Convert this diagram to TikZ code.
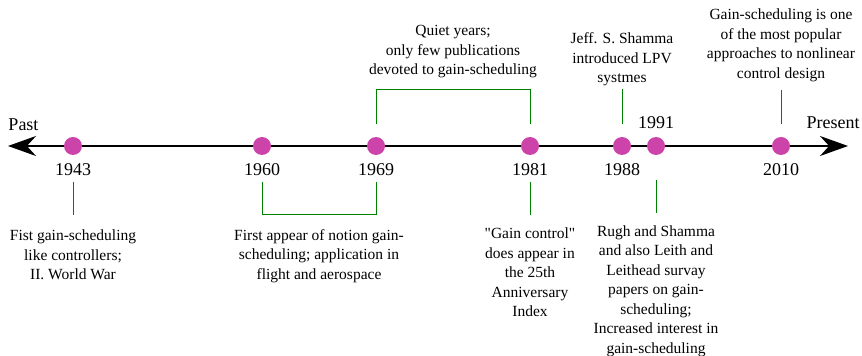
\documentclass[tikz,border=0pt]{standalone}
\usepackage{fontspec}
\setmainfont{Liberation Serif}[Ligatures=TeXOff]
\usetikzlibrary{arrows.meta,positioning}
\definecolor{dotpink}{RGB}{204,68,170}
\definecolor{linkgreen}{RGB}{0,128,0}

\begin{document}
\begin{tikzpicture}[
    x=1pt, y=1pt,
    dot/.style={circle, fill=dotpink, inner sep=0pt, minimum size=18pt},
    year/.style={font=\fontsize{18}{20}\selectfont, inner sep=3pt},
    note/.style={align=center, font=\fontsize{15.5}{19.5}\selectfont, inner sep=3pt},
    link/.style={draw=linkgreen, line width=0.9pt},
    axis/.style={{Stealth[length=28pt,width=20pt]}-{Stealth[length=28pt,width=20pt]}, line width=1.6pt}
]
\useasboundingbox (0,0) rectangle (862,356);
\coordinate (west) at (8,210);
\coordinate (east) at (848,210);
\draw[axis] (west) -- (east);
\node[year] (past) at (23.5,231) {Past};
\node[year] (present) at (833,233) {Present};
\foreach \yr/\x in {1943/73, 1960/262, 1969/376, 1981/530, 1988/622, 1991/656, 2010/781}
    \node[dot] (d\yr) at (\x,210) {};
\foreach \yr in {1943, 1960, 1969, 1981, 1988, 2010}
    \node[year, below=5pt of d\yr] (y\yr) {\yr};
\node[year, above=5pt of d1991] (y1991) {1991};
\node[note] (n1943) at (73,101) {Fist gain-scheduling\\like controllers;\\II. World War};
\node[note] (n1960) at (319,100) {First appear of notion gain-\\scheduling; application in\\flight and aerospace};
\node[note] (n1969) at (453,304) {Quiet years;\\only few publications\\devoted to gain-scheduling};
\node[note] (n1981) at (530,83.5) {"Gain control"\\does appear in\\the 25th\\Anniversary\\Index};
\node[note] (n1988) at (622,296.5) {Jeff. S. Shamma\\introduced LPV\\systmes};
\node[note] (n1991) at (656,65) {Rugh and Shamma\\and also Leith and\\Leithead survay\\papers on gain-\\scheduling;\\Increased interest in\\gain-scheduling};
\node[note] (n2010) at (781,310.5) {Gain-scheduling is one\\of the most popular\\approaches to nonlinear\\control design};
\draw[link, shorten <=3pt, shorten >=11.5pt] (y1943) -- (n1943);
\draw[link] ([yshift=-3pt]y1960.south) -- ++(0,-33) -| ([yshift=-3pt]y1969.south);
\draw[link] ([yshift=13pt]d1969.north) -- ++(0,34) -| ([yshift=13pt]d1981.north);
\draw[link, shorten <=3pt, shorten >=9.5pt] (y1981) -- (n1981);
\draw[link, shorten <=13pt] (d1988) -- (n1988);
\draw[link, shorten <=25pt, shorten >=9.5pt] (d1991) -- (n1991);
\draw[link, shorten <=13pt, shorten >=5pt] (d2010) -- (n2010);
\end{tikzpicture}
\end{document}
